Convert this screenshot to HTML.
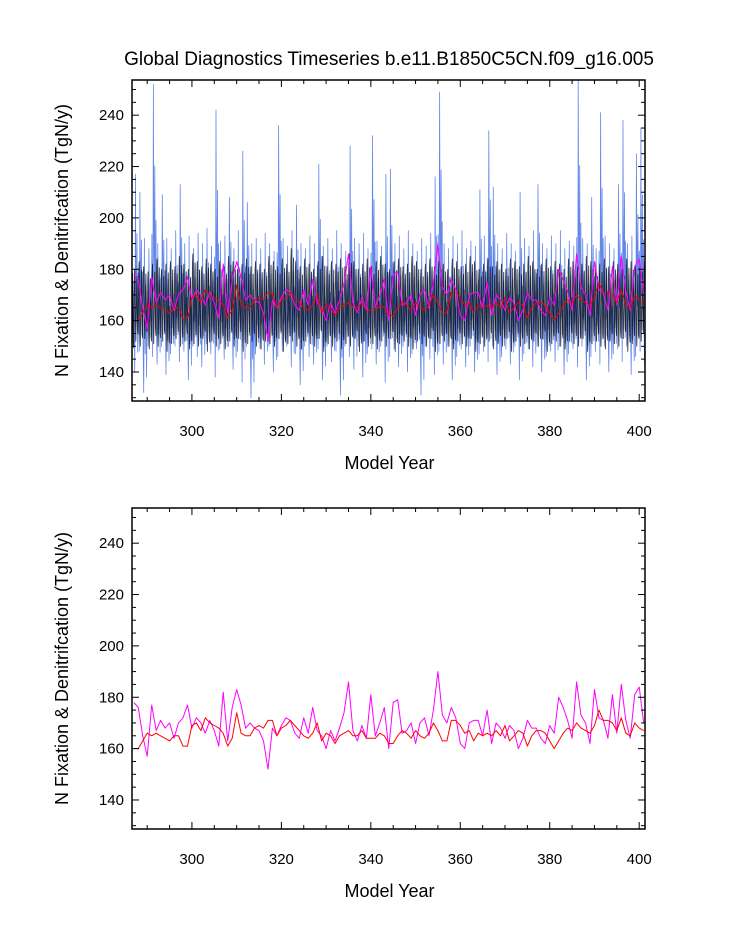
<!DOCTYPE html>
<html><head><meta charset="utf-8"><style>
body{margin:0;background:#fff}
svg text{font-family:"Liberation Sans",sans-serif;fill:#000}
</style></head><body>
<svg id="c" width="733" height="945" xmlns="http://www.w3.org/2000/svg">
<text x="389" y="65" font-size="19" text-anchor="middle">Global Diagnostics Timeseries b.e11.B1850C5CN.f09_g16.005</text>
</svg>
<script>
const years=[];for(let y=287;y<=401;y++)years.push(y);
const magenta=[178,176,165,157,177,167,171,168,170,164,170,172,177,168,172,170,166,171,167,161,182,163,176,183,177,168,170,168,167,163,152,168,165,169,172,171,166,164,172,166,176,167,165,160,167,163,168,174,186,167,163,169,164,181,165,170,176,160,178,179,166,167,170,162,170,172,165,175,190,173,170,176,172,162,160,170,171,171,165,175,162,170,168,164,169,167,160,164,171,168,168,164,162,169,166,180,176,171,164,186,173,170,162,183,172,171,164,181,166,185,171,164,181,184,170];
const red=[160,160,163,166,165,166,165,164,163,165,165,161,161,169,170,167,172,170,169,168,166,161,164,174,166,165,165,168,169,168,171,171,165,168,169,171,169,167,165,164,166,170,163,166,165,162,165,166,167,165,165,167,164,164,164,166,165,162,162,165,167,166,164,167,165,164,166,170,167,163,163,171,171,169,166,167,163,166,165,166,165,167,165,169,163,165,167,166,161,165,167,167,166,163,160,163,166,168,167,170,168,167,166,169,175,171,171,170,167,172,166,165,170,168,167];
const blueMax=[190,217,210,192,188,252,190,209,192,188,195,213,190,193,188,194,190,196,189,242,191,193,208,188,195,226,206,190,192,188,194,190,187,236,192,189,195,205,190,188,193,190,221,189,192,188,195,190,187,228,192,190,194,188,232,191,189,217,219,190,193,188,195,190,187,192,189,194,216,249,190,188,193,190,195,188,191,189,211,193,234,212,190,188,194,190,187,210,192,189,195,213,190,188,193,190,195,188,191,189,254,192,190,208,188,241,193,190,188,213,238,190,193,225,235,192];
const blueMin=[145,140,148,132,150,146,143,150,139,147,150,144,148,137,150,146,142,151,147,138,149,145,150,141,148,136,150,130,147,149,143,150,140,146,148,150,142,147,135,150,146,143,149,137,150,144,148,131,150,146,141,150,138,147,149,143,150,136,146,149,142,150,140,147,149,131,150,145,139,148,143,150,137,146,149,142,150,140,147,148,144,150,139,146,149,143,150,137,147,149,142,150,140,146,148,144,150,139,147,149,142,150,137,146,148,143,150,140,147,149,144,150,139,146,148,143];
const blackMax=[182,180,183,181,179,182,184,180,182,183,181,185,182,180,186,183,181,184,182,180,183,181,185,183,180,182,184,181,183,182,180,185,183,181,184,182,188,183,181,184,182,180,183,185,181,183,182,184,181,186,183,180,182,184,181,183,185,182,180,183,184,181,182,185,183,180,182,184,181,183,182,180,184,183,181,182,185,183,180,182,184,181,183,182,180,184,183,181,182,185,183,180,182,184,181,183,182,180,184,183,181,182,185,183,180,182,184,181,183,182,180,184,183,181,182,183];
const blackMin=[146,152,150,153,149,151,150,152,148,151,153,150,152,149,151,150,153,148,152,150,151,149,152,150,153,148,151,152,150,149,152,151,150,153,148,151,152,150,149,152,151,150,153,148,151,150,152,149,151,150,153,148,152,150,151,149,152,150,153,148,151,152,150,149,152,151,150,153,148,151,152,150,149,152,151,150,153,148,151,150,152,149,151,150,153,148,152,150,151,149,152,150,153,148,151,152,150,149,152,151,150,153,148,151,152,150,149,152,151,150,153,148,151,150,152,150];
const blueShape=[0.45,0.2,0,0.35,1,0.55,0.25,0.5,0.7,0.3,0.1,0.5];
const blackShape=[0.5,0.9,1,0.6,0.2,0,0.3,0.7,0.9,0.5,0.15,0.1];
const yTicks=[140,160,180,200,220,240];
const xTicks=[300,320,340,360,380,400];
const X0=286.6,X1=401.3,Y0=128.7,Y1=253.7,L=132,R=645;
const svg=document.getElementById('c');const NS='http://www.w3.org/2000/svg';
function mk(t,a,p){const e=document.createElementNS(NS,t);for(const k in a)e.setAttribute(k,a[k]);(p||svg).appendChild(e);return e;}
function panel(top,bot,idx){
 const g=mk('g',{});
 
 
 const sx=v=>L+(v-X0)/(X1-X0)*(R-L), sy=v=>bot-(v-Y0)/(Y1-Y0)*(bot-top);
 const cid='clip'+idx;const cp=mk('clipPath',{id:cid},g);mk('rect',{x:L,y:top,width:R-L,height:bot-top},cp);
 const dg=mk('g',{'clip-path':'url(#'+cid+')'},g);
 function line(pts,col,w,name,op){const p=mk('polyline',{points:pts.map(q=>sx(q[0]).toFixed(1)+','+sy(q[1]).toFixed(1)).join(' '),fill:'none',stroke:col,'stroke-width':w,'stroke-linejoin':'round','stroke-opacity':op||1},dg);
  
  }
 if(idx===1){
  const bk=[],bl=[];
  for(let i=0;i<blackMax.length;i++){for(let m=0;m<12;m++){const t=286+i+(m+0.5)/12;
   bk.push([t,blackMin[i]+blackShape[m]*(blackMax[i]-blackMin[i])]);
   bl.push([t,blueMin[i]+blueShape[m]*(blueMax[i]-blueMin[i])]);}}
  line(bl,'#2d5fe0',0.8,'monthly-blue-series',0.75);
  line(bk,'#000',0.9,'monthly-black-series',0.75);
 }
 line(years.map((y,i)=>[y,magenta[i]]),'#ff00ff',idx===1?1.1:1,'annual-magenta-series');
 line(years.map((y,i)=>[y,red[i]]),'#ff0000',idx===1?0.9:1,'annual-red-series');
 mk('rect',{x:L,y:top,width:R-L,height:bot-top,fill:'none',stroke:'#000','stroke-width':1.5},g);
 for(let v=130;v<=250;v+=5){const maj=v%20===0,len=maj?7:4,y=sy(v);
  mk('line',{x1:L,x2:L+len,y1:y,y2:y,stroke:'#000'},g);mk('line',{x1:R,x2:R-len,y1:y,y2:y,stroke:'#000'},g);}
 for(let v=290;v<=400;v+=5){const maj=v%20===0,len=maj?7:4,x=sx(v);
  mk('line',{x1:x,x2:x,y1:bot,y2:bot-len,stroke:'#000'},g);mk('line',{x1:x,x2:x,y1:top,y2:top+len,stroke:'#000'},g);}
 yTicks.forEach(v=>{const t=mk('text',{x:L-8,y:sy(v)+5,'font-size':15,'text-anchor':'end'},g);t.textContent=v;
  
  });
 xTicks.forEach(v=>{const t=mk('text',{x:sx(v),y:bot+35,'font-size':15,'text-anchor':'middle'},g);t.textContent=v;
  
  });
 const xt=mk('text',{x:(L+R)/2+1,y:bot+68,'font-size':18,'text-anchor':'middle'},g);xt.textContent='Model Year';
 
 
 const cy=(top+bot)/2;const yt=mk('text',{x:68,y:cy,'font-size':18,'text-anchor':'middle',transform:'rotate(-90 68 '+cy+')'},g);
 yt.textContent='N Fixation & Denitrifcation (TgN/y)';
 
 
}
panel(80,401,1);panel(508,829,2);
</script>
</body></html>
